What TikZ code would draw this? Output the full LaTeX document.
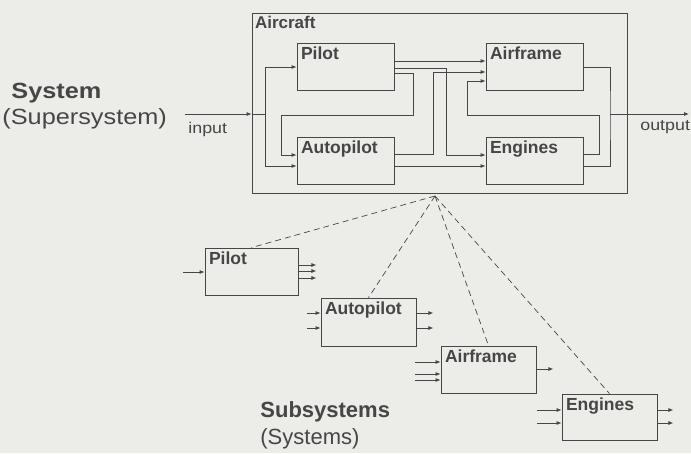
\documentclass[tikz,border=0pt]{standalone}
\usepackage{fontspec}
\setmainfont{Liberation Sans}
\newfontfamily\widesf[FakeStretch=1.15]{Liberation Sans}
\usepackage{xcolor}
\usepackage{tikz}
\usetikzlibrary{calc, arrows.meta, positioning}
\definecolor{paper}{RGB}{236,236,232}
\definecolor{ink}{RGB}{70,70,70}

\begin{document}
\begin{tikzpicture}[x=1pt, y=-1pt, >={Latex[length=5pt, width=4pt]},
    color=ink, line width=0.8pt,
    box/.style={draw, minimum width=97pt, minimum height=47pt, inner sep=0pt},
    lbl/.style={anchor=north west, inner sep=4pt, font=\fontsize{17.5}{20}\selectfont\bfseries},
    big/.style={anchor=base west, inner sep=0pt, font=\widesf\fontsize{22}{26}\selectfont},
    small/.style={anchor=base west, inner sep=0pt, font=\widesf\fontsize{15.5}{18}\selectfont}]
    % 1. Nền và khung
    \path[use as bounding box, fill=paper] (0,0) rectangle (691,453);

    % 2. Hệ Aircraft
    \node[box, minimum width=375pt, minimum height=180pt,
        label={[lbl, inner sep=3pt, font=\fontsize{17}{20}\selectfont\bfseries]north west:Aircraft}] (aircraft) at (439.5,103) {};
    \node[box, label={[lbl]north west:Pilot}] (pilot) at (345.5,66.5) {};
    \node[box, label={[lbl]north west:Airframe}] (airframe) at (534.5,66.5) {};
    \node[box, label={[lbl]north west:Autopilot}] (autopilot) at (345.5,160.5) {};
    \node[box, label={[lbl]north west:Engines}] (engines) at (534.5,160.5) {};

    % 3. Tín hiệu bên trong
    \coordinate (input) at (185,114);
    \coordinate (split) at (265,114);
    \coordinate (join) at (610,114);
    \coordinate (output) at (689,114);
    \draw[->] (input) -- (aircraft.west |- input);
    \draw (aircraft.west |- input) -- (split);
    \draw[->] (split) |- ([yshift=-0.5pt]pilot.west);
    \draw[->] (split) |- ([yshift=-5.5pt]autopilot.west);
    \draw[->] ([yshift=5.5pt]pilot.east) -- ([yshift=5.5pt]airframe.west);
    \draw[->] ([yshift=-1.5pt]pilot.east) -| (446,155) -- ([yshift=5.5pt]engines.west);
    \draw[->] ([yshift=-6.5pt]pilot.east) -| (413,115) -| (281,155) -- ([yshift=5.5pt]autopilot.west);
    \draw[->] ([yshift=6.5pt]autopilot.east) -| (433,72) -- ([yshift=-5.5pt]airframe.west);
    \draw[->] ([yshift=-5.5pt]autopilot.east) -- ([yshift=-5.5pt]engines.west);
    \draw[->] ([yshift=6.5pt]engines.east) -| (599,115) -| (467,81) -- ([yshift=-14.5pt]airframe.west);
    \draw ([yshift=-0.5pt]airframe.east) -| (join) |- ([yshift=-5.5pt]engines.east);
    \draw[->] (join) -- (output);

    % 4. Các hệ con
    \node[box, minimum width=93pt, label={[lbl]north west:Pilot}] (spilot) at (251.5,271.5) {};
    \node[box, minimum width=95pt, minimum height=48pt, label={[lbl]north west:Autopilot}] (sautopilot) at (368.5,322) {};
    \node[box, minimum width=95pt, label={[lbl]north west:Airframe}] (sairframe) at (488.5,369.5) {};
    \node[box, minimum width=95pt, minimum height=46pt, label={[lbl]north west:Engines}] (sengines) at (609.5,417) {};

    \draw[<-] ([yshift=-0.5pt]spilot.west) -- ++(-22,0);
    \foreach \dy in {6.5,0.5,-6.5}
        \draw[->] ([yshift=\dy pt]spilot.east) -- ++(18,0);
    \foreach \dy in {9,-6} {
        \draw[<-] ([yshift=\dy pt]sautopilot.west) -- ++(-14,0);
        \draw[->] ([yshift=\dy pt]sautopilot.east) -- ++(17,0);
    }
    \foreach \dy in {7.5,-4.5,-10.5}
        \draw[<-] ([yshift=\dy pt]sairframe.west) -- ++(-26,0);
    \draw[->] ([yshift=0.5pt]sairframe.east) -- ++(17,0);
    \foreach \dy in {7,-6} {
        \draw[<-] ([yshift=\dy pt]sengines.west) -- ++(-25,0);
        \draw[->] ([yshift=\dy pt]sengines.east) -- ++(16,0);
    }

    % 5. Đường nét đứt
    \coordinate (hub) at (435,196);
    \foreach \s in {spilot, sautopilot, sairframe, sengines}
        \draw[dash pattern=on 6pt off 4pt, line width=0.7pt] (hub) -- (\s.north);

    % 6. Nhãn
    \node[big, font=\widesf\fontsize{22}{26}\selectfont\bfseries] (system) at (11,98) {System};
    \node[big] (supersystem) at (2,124) {(Supersystem)};
    \node[small] (inputlbl) at (188,133) {input};
    \node[small] (outputlbl) at (640,130) {output};
    \node[big, font=\fontsize{22}{26}\selectfont\bfseries] (subsystems) at (260,417) {Subsystems};
    \node[big, font=\fontsize{22}{26}\selectfont] (systems) at (260,444) {(Systems)};
\end{tikzpicture}
\end{document}
